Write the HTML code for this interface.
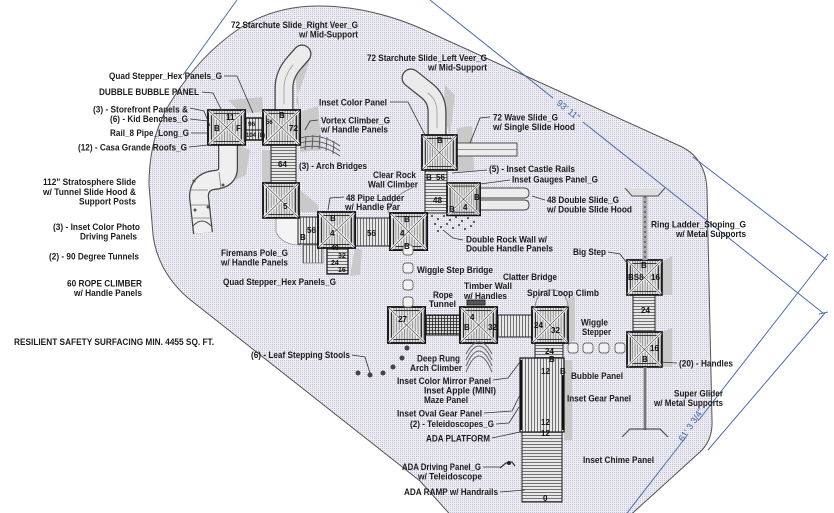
<!DOCTYPE html>
<html><head><meta charset="utf-8"><style>
html,body{margin:0;padding:0;background:#fff;}
svg{display:block;}
.t{font-family:"Liberation Sans",Arial,sans-serif;font-weight:bold;font-size:9.3px;fill:#1c1c1c;}
.n{font-family:"Liberation Sans",Arial,sans-serif;font-weight:bold;font-size:8px;fill:#111;}
.d{font-family:"Liberation Sans",Arial,sans-serif;font-size:9px;fill:#3f63b0;}
.ld{fill:none;stroke:#333;stroke-width:0.8;}
.bl{stroke:#4a6cb3;stroke-width:1;fill:none;}
</style></head><body>
<svg width="834" height="513" viewBox="0 0 834 513" xmlns="http://www.w3.org/2000/svg">
<defs>
<pattern id="dots" width="2" height="2" patternUnits="userSpaceOnUse">
<rect width="2" height="2" fill="#ededf3"/><rect width="1" height="1" fill="#c2c3d6"/>
</pattern>
<pattern id="vh" width="2.6" height="4" patternUnits="userSpaceOnUse">
<rect width="2.6" height="4" fill="#e2e2e2"/><line x1="0.5" y1="0" x2="0.5" y2="4" stroke="#777" stroke-width="0.7"/>
</pattern>
<pattern id="vs" width="3" height="4" patternUnits="userSpaceOnUse">
<rect width="3" height="4" fill="#e8e8e8"/><line x1="0.5" y1="0" x2="0.5" y2="4" stroke="#555" stroke-width="0.8"/>
</pattern>
<pattern id="hs" width="4" height="3" patternUnits="userSpaceOnUse">
<rect width="4" height="3" fill="#e8e8e8"/><line x1="0" y1="0.5" x2="4" y2="0.5" stroke="#555" stroke-width="0.8"/>
</pattern>
<pattern id="grid" width="3" height="3" patternUnits="userSpaceOnUse">
<rect width="3" height="3" fill="#d8d8d8"/><path d="M0.5 0V3M0 0.5H3" stroke="#222" stroke-width="0.8"/>
</pattern>
<g id="deck">
<rect x="0" y="0" width="36" height="36" fill="url(#vh)" stroke="#111" stroke-width="1.8"/>
<rect x="3.5" y="3.5" width="29" height="29" fill="none" stroke="#222" stroke-width="0.9"/>
<path d="M1 1L35 35M35 1L1 35" stroke="#fff" stroke-width="2.6"/>
<path d="M1 1L35 35M35 1L1 35" stroke="#444" stroke-width="0.7"/>
</g>
</defs>

<!-- surfacing area -->
<path d="M318,6 C350,6 385,13 420,28 L680,146 Q706,158 707,190 L712,420 Q713,440 700,452 L625,520 L455,520 L420,481 L188,298 Q158,272 153,235 L149,185 Q149,135 172,100 Q200,55 240,28 Q275,6 318,6 Z" fill="url(#dots)" stroke="#555" stroke-width="1"/>

<!-- blue dimension lines -->
<line class="bl" x1="237" y1="0" x2="183" y2="75"/>
<line class="bl" x1="430" y1="0" x2="553" y2="98"/>
<line class="bl" x1="583" y1="122" x2="823" y2="313"/>
<line class="bl" x1="693" y1="157" x2="827" y2="260"/>
<line class="bl" x1="825" y1="258" x2="698" y2="421"/>
<line class="bl" x1="686" y1="437" x2="627" y2="513"/>
<line class="bl" x1="708" y1="450" x2="825" y2="313"/>
<line class="bl" x1="822" y1="262" x2="828" y2="254"/>
<line class="bl" x1="819" y1="314" x2="828" y2="312"/>
<text class="d" transform="translate(556,104) rotate(38.7)">93' 11"</text>
<text class="d" transform="translate(683,442) rotate(-56)">61' 3 3/4"</text>

<!-- gray shadows -->
<g fill="#c9c9c9">
<path d="M228,100 L262,97 L263,112 L240,113 Z"/>
<path d="M300,112 L318,106 L322,150 L300,152 Z"/>
<path d="M293,60 L312,52 L305,75 L296,100 L300,112 Z"/>
<path d="M262,150 L270,150 L270,185 L262,185 Z"/>
<path d="M238,145 L250,150 L246,175 L236,180 Z"/>
<path d="M457,128 L472,126 L474,170 L457,172 Z"/>
<path d="M445,85 L455,95 L450,135 L442,112 Z"/>
<path d="M300,190 L318,205 L318,212 L300,212 Z"/>
<path d="M662,262 L672,256 L672,295 L662,295 Z"/>
<path d="M662,332 L672,328 L672,367 L662,367 Z"/>
<path d="M564,360 L572,360 L572,440 L564,440 Z"/>
<path d="M568,300 L575,295 L575,340 L568,343 Z"/>
<path d="M355,248 L362,250 L360,275 L350,276 Z"/>
</g>
<!-- white tunnel / rock wall area -->
<path d="M276,218 L300,218 L300,245 Q282,245 276,232 Z" fill="#f4f4f4" stroke="#888" stroke-width="0.8"/>
<path d="M412,188 Q392,196 388,213" fill="none" stroke="#777" stroke-width="0.8"/>

<!-- slides -->
<g fill="none" stroke-linecap="round">
<path d="M284,112 L284,88 Q284,74 295,62 L302,54" stroke="#444" stroke-width="19"/>
<path d="M284,112 L284,88 Q284,74 295,62 L302,54" stroke="#ebebeb" stroke-width="16.5"/>
<path d="M284,104 L284,88 Q284,76 293,65" stroke="#999" stroke-width="0.8"/>
<path d="M437,137 L437,112 Q437,98 426,90 L411,78" stroke="#444" stroke-width="19"/>
<path d="M437,137 L437,112 Q437,98 426,90 L411,78" stroke="#ebebeb" stroke-width="16.5"/>
<path d="M437,128 L437,112 Q437,100 428,93" stroke="#999" stroke-width="0.8"/>
</g>
<g fill="none">
<path d="M228,145 L228,168 Q228,179 214,180 Q199,182 199,197 L203,233" stroke="#444" stroke-width="20"/>
<path d="M228,145 L228,168 Q228,179 214,180 Q199,182 199,197 L203,233" stroke="#efefef" stroke-width="17.5"/>
<path d="M193,226 Q202,216 211,226" stroke="#444" stroke-width="0.9"/>
<path d="M190,190 L208,190 M191,205 L209,205 M192,218 L210,218 M219,172 L221,188" stroke="#777" stroke-width="0.8"/>
</g>
<g fill="#555"><circle cx="194" cy="181" r="1.5"/><circle cx="223" cy="185" r="1.5"/><circle cx="195" cy="210" r="1.5"/><circle cx="208" cy="207" r="1.5"/></g>
<!-- wave slide -->
<rect x="457" y="143" width="60" height="13" fill="#ececec" stroke="#444" stroke-width="0.9"/>
<line x1="457" y1="149.5" x2="517" y2="149.5" stroke="#777" stroke-width="0.7"/>
<!-- double slide -->
<path d="M480,188 L524,188 Q529,188 529,193 Q529,198 524,198 L480,198 Z M480,200 L524,200 Q529,200 529,205 Q529,210 524,210 L480,210 Z" fill="#ececec" stroke="#444" stroke-width="0.9"/>

<!-- arch bridges / vortex -->
<g fill="none" stroke="#555" stroke-width="0.9">
<path d="M300,138 Q320,132 340,146 M300,143 Q320,137 340,151 M300,148 Q320,142 340,156"/>
<path d="M306,137 L305,150 M313,135 L312,149 M320,135 L319,149 M327,137 L326,151 M334,141 L333,154"/>
</g>

<!-- walkways -->
<rect x="245" y="118" width="18" height="22" fill="url(#vs)" stroke="#111" stroke-width="1.4"/>
<line x1="245" y1="130" x2="263" y2="130" stroke="#111" stroke-width="1"/>
<rect x="271" y="145" width="25" height="38" fill="url(#hs)" stroke="#222" stroke-width="1"/>
<rect x="298" y="217" width="20" height="27" fill="url(#vs)" stroke="#222" stroke-width="1"/>
<rect x="355" y="218" width="35" height="28" fill="url(#vs)" stroke="#222" stroke-width="1"/>
<rect x="425" y="170" width="22" height="43" fill="url(#hs)" stroke="#222" stroke-width="1"/>
<rect x="425" y="315" width="35" height="20" fill="url(#grid)" stroke="#111" stroke-width="1"/>
<rect x="497" y="315" width="35" height="22" fill="url(#vs)" stroke="#222" stroke-width="1"/>
<rect x="535" y="343" width="28" height="17" fill="url(#hs)" stroke="#222" stroke-width="1"/>
<rect x="633" y="295" width="22" height="37" fill="url(#hs)" stroke="#222" stroke-width="1"/>
<rect x="520" y="358" width="44" height="74" fill="url(#vs)" stroke="#111" stroke-width="1.2"/>
<rect x="522" y="432" width="40" height="70" fill="url(#hs)" stroke="#222" stroke-width="1"/>
<line x1="521" y1="360" x2="521" y2="430" stroke="#111" stroke-width="2"/>
<line x1="563" y1="375" x2="563" y2="430" stroke="#111" stroke-width="2"/>
<!-- ladder below D & fireman pole -->
<rect x="327" y="247" width="21" height="27" fill="url(#hs)" stroke="#111" stroke-width="1.2"/>
<rect x="303" y="245" width="20" height="18" fill="url(#vs)" stroke="#555" stroke-width="0.6"/>

<!-- decks -->
<use href="#deck" transform="translate(208,110) scale(1.03,0.97)"/>
<use href="#deck" transform="translate(263,110) scale(1.03,0.97)"/>
<use href="#deck" transform="translate(263,183) scale(1,0.97)"/>
<use href="#deck" transform="translate(318,212) scale(1.03,1)"/>
<use href="#deck" transform="translate(390,213) scale(1.03,1.03)"/>
<use href="#deck" transform="translate(422,135) scale(0.97,0.97)"/>
<use href="#deck" transform="translate(447,183) scale(0.92,0.9)"/>
<use href="#deck" transform="translate(388,307) scale(1.03,1)"/>
<use href="#deck" transform="translate(460,307) scale(1.03,1)"/>
<use href="#deck" transform="translate(532,307) scale(1,1)"/>
<use href="#deck" transform="translate(627,332) scale(0.97,0.97)"/>
<use href="#deck" transform="translate(627,260) scale(0.97,0.97)"/>

<!-- double rock wall -->
<g fill="#333">
<circle cx="432" cy="216" r="1"/><circle cx="438" cy="219" r="1"/><circle cx="444" cy="216" r="1"/><circle cx="450" cy="220" r="1"/><circle cx="456" cy="217" r="1"/><circle cx="462" cy="221" r="1"/><circle cx="468" cy="218" r="1"/><circle cx="474" cy="222" r="1"/>
<circle cx="435" cy="224" r="1"/><circle cx="441" cy="227" r="1"/><circle cx="447" cy="224" r="1"/><circle cx="453" cy="228" r="1"/><circle cx="459" cy="225" r="1"/><circle cx="465" cy="229" r="1"/><circle cx="471" cy="226" r="1"/><circle cx="438" cy="231" r="1"/>
</g>

<!-- wiggle step bridge -->
<g fill="#f2f2f2" stroke="#666" stroke-width="0.9">
<rect x="403" y="245" width="10" height="10" rx="3"/><rect x="403" y="263" width="10" height="10" rx="3"/><rect x="403" y="280" width="10" height="10" rx="3"/><rect x="403" y="297" width="10" height="10" rx="3"/>
<rect x="568" y="343" width="10" height="10" rx="3"/><rect x="583" y="343" width="10" height="10" rx="3"/><rect x="599" y="343" width="10" height="10" rx="3"/><rect x="615" y="343" width="10" height="10" rx="3"/>
</g>
<!-- spiral loop climb -->
<path d="M535,307 Q537,290 552,290 Q567,290 568,307" fill="none" stroke="#999" stroke-width="1.2"/>
<!-- timber wall -->
<rect x="467" y="300" width="18" height="5" fill="#555" stroke="#111" stroke-width="0.8"/>
<!-- deep rung arch climber -->
<g fill="none" stroke="#666" stroke-width="1">
<path d="M466,372 Q479,340 492,372"/><path d="M466,366 Q479,336 492,366"/><path d="M466,360 Q479,332 492,360"/><path d="M466,354 Q479,330 492,354"/>
</g>
<!-- leaf stools -->
<g fill="#444"><circle cx="358" cy="373" r="2.5"/><circle cx="370" cy="375" r="2.5"/><circle cx="383" cy="373" r="2.5"/><circle cx="393" cy="367" r="2.5"/><circle cx="402" cy="358" r="2.5"/><circle cx="407" cy="348" r="2.5"/></g>
<!-- ring ladder & super glider -->
<line x1="645" y1="196" x2="645" y2="260" stroke="#aaa" stroke-width="5"/>
<line x1="645" y1="196" x2="645" y2="260" stroke="#333" stroke-width="1" stroke-dasharray="2,3"/>
<path d="M625,188 L632,196 L658,196 L665,188" fill="#ddd" stroke="#555" stroke-width="1"/>
<line x1="645" y1="367" x2="645" y2="430" stroke="#999" stroke-width="3"/>
<line x1="645" y1="367" x2="645" y2="430" stroke="#444" stroke-width="0.8"/>
<path d="M622,437 L630,429 L660,429 L668,437" fill="none" stroke="#555" stroke-width="1.2"/>
<!-- teleidoscope icon -->
<path d="M500,468 L506,463 L512,462 L515,466" fill="none" stroke="#333" stroke-width="1.2"/><circle cx="509" cy="463" r="2" fill="#222"/>

<!-- deck numbers -->
<g class="n">
<text x="226" y="120">11</text><text x="214" y="131">B</text><text x="236" y="131">F</text>
<text x="248" y="126" style="font-size:6.5px">96</text><text x="246" y="137" style="font-size:6px">104 (8)</text>
<text x="279" y="118">B</text><text x="289" y="131">72</text><text x="266" y="124" style="font-size:6px">56</text>
<text x="278" y="167">64</text><text x="283" y="209">5</text>
<text x="300" y="240">B</text><text x="307" y="233">56</text>
<text x="330" y="221">B</text><text x="330" y="236">4</text><text x="331" y="250" style="font-size:7px">40</text>
<text x="338" y="258" style="font-size:7px">32</text><text x="331" y="265" style="font-size:7px">24</text><text x="338" y="272" style="font-size:7px">16</text>
<text x="367" y="236">56</text>
<text x="404" y="222">B</text><text x="400" y="236">4</text><text x="404" y="249">B</text>
<text x="437" y="143">B</text><text x="426" y="180">B</text><text x="436" y="180">56</text><text x="433" y="203">48</text>
<text x="463" y="210">4</text><text x="474" y="200">B</text><text x="449" y="212">B</text>
<text x="398" y="322">27</text>
<text x="470" y="320">4</text><text x="464" y="330">B</text><text x="488" y="330">32</text>
<text x="534" y="328">24</text><text x="551" y="333">32</text>
<text x="545" y="354">24</text><text x="549" y="362">B</text>
<text x="541" y="374">12</text><text x="560" y="374">B</text><text x="541" y="425">12</text><text x="541" y="436">12</text>
<text x="543" y="501">0</text>
<text x="641" y="313">24</text>
<text x="641" y="268">B</text><text x="628" y="280">BS8</text><text x="651" y="280">16</text>
<text x="650" y="351">16</text><text x="642" y="362">B</text>
</g>

<!-- leaders -->
<g class="ld">
<path d="M224,76 L237,76 L253,113"/>
<path d="M202,92 L213,93 L222,111"/>
<path d="M190,108 L204,111 L210,126"/>
<path d="M190,119 L208,121"/>
<path d="M191,133 L208,133"/>
<path d="M189,147 L208,145"/>
<path d="M390,102 L408,102 L425,135"/>
<path d="M318,120 L310,121 L305,130"/>
<path d="M344,197 L330,198 L328,210"/>
<path d="M490,117 L480,118 L470,143"/>
<path d="M487,170 L452,173"/>
<path d="M510,180 L480,184"/>
<path d="M545,200 L532,196"/>
<path d="M463,240 L453,238 L443,230"/>
<path d="M608,252 L620,254 L627,263"/>
<path d="M677,363 L660,362"/>
<path d="M352,355 L365,357 L370,373"/>
<path d="M493,380 L508,378 L520,362"/>
<path d="M484,413 L512,411 L520,395"/>
<path d="M496,424 L509,423 L519,407"/>
<path d="M492,438 L520,432"/>
<path d="M483,467 L500,467"/>
<path d="M500,492 L525,490"/>
</g>

<!-- labels -->
<g class="t">
<text x="231" y="28" textLength="127" lengthAdjust="spacingAndGlyphs">72 Starchute Slide_Right Veer_G</text>
<text x="299" y="37.5" textLength="59" lengthAdjust="spacingAndGlyphs">w/ Mid-Support</text>
<text x="367" y="61" textLength="120" lengthAdjust="spacingAndGlyphs">72 Starchute Slide_Left Veer_G</text>
<text x="428" y="70.5" textLength="59" lengthAdjust="spacingAndGlyphs">w/ Mid-Support</text>
<text x="109" y="79" textLength="113" lengthAdjust="spacingAndGlyphs">Quad Stepper_Hex Panels_G</text>
<text x="99" y="95" textLength="100" lengthAdjust="spacingAndGlyphs">DUBBLE BUBBLE PANEL</text>
<text x="93" y="112.5" textLength="95" lengthAdjust="spacingAndGlyphs">(3) - Storefront Panels &amp;</text>
<text x="110" y="122" textLength="78" lengthAdjust="spacingAndGlyphs">(6) - Kid Benches_G</text>
<text x="110" y="136" textLength="79" lengthAdjust="spacingAndGlyphs">Rail_8 Pipe_Long_G</text>
<text x="78" y="150.5" textLength="109" lengthAdjust="spacingAndGlyphs">(12) - Casa Grande Roofs_G</text>
<text x="43" y="185" textLength="93" lengthAdjust="spacingAndGlyphs">112" Stratosphere Slide</text>
<text x="43" y="195" textLength="93" lengthAdjust="spacingAndGlyphs">w/ Tunnel Slide Hood &amp;</text>
<text x="79" y="204.5" textLength="57" lengthAdjust="spacingAndGlyphs">Support Posts</text>
<text x="53" y="230" textLength="87" lengthAdjust="spacingAndGlyphs">(3) - Inset Color Photo</text>
<text x="80" y="239.5" textLength="57" lengthAdjust="spacingAndGlyphs">Driving Panels</text>
<text x="49" y="259.5" textLength="90" lengthAdjust="spacingAndGlyphs">(2) - 90 Degree Tunnels</text>
<text x="67" y="286.5" textLength="75" lengthAdjust="spacingAndGlyphs">60 ROPE CLIMBER</text>
<text x="74" y="296" textLength="68" lengthAdjust="spacingAndGlyphs">w/ Handle Panels</text>
<text x="14" y="345" textLength="200" lengthAdjust="spacingAndGlyphs">RESILIENT SAFETY SURFACING MIN. 4455 SQ. FT.</text>
<text x="221" y="256" textLength="67" lengthAdjust="spacingAndGlyphs">Firemans Pole_G</text>
<text x="221" y="265.5" textLength="67" lengthAdjust="spacingAndGlyphs">w/ Handle Panels</text>
<text x="223" y="285" textLength="113" lengthAdjust="spacingAndGlyphs">Quad Stepper_Hex Panels_G</text>
<text x="251" y="358" textLength="99" lengthAdjust="spacingAndGlyphs">(6) - Leaf Stepping Stools</text>
<text x="319" y="105.5" textLength="68" lengthAdjust="spacingAndGlyphs">Inset Color Panel</text>
<text x="321" y="123.5" textLength="69" lengthAdjust="spacingAndGlyphs">Vortex Climber_G</text>
<text x="321" y="132.5" textLength="67" lengthAdjust="spacingAndGlyphs">w/ Handle Panels</text>
<text x="299" y="169" textLength="68" lengthAdjust="spacingAndGlyphs">(3) - Arch Bridges</text>
<text x="373" y="178" textLength="43" lengthAdjust="spacingAndGlyphs">Clear Rock</text>
<text x="368" y="187.5" textLength="50" lengthAdjust="spacingAndGlyphs">Wall Climber</text>
<text x="346" y="201" textLength="58" lengthAdjust="spacingAndGlyphs">48 Pipe Ladder</text>
<text x="345" y="210" textLength="55" lengthAdjust="spacingAndGlyphs">w/ Handle Par</text>
<text x="493" y="120.5" textLength="65" lengthAdjust="spacingAndGlyphs">72 Wave Slide_G</text>
<text x="493" y="130" textLength="82" lengthAdjust="spacingAndGlyphs">w/ Single Slide Hood</text>
<text x="489" y="172" textLength="86" lengthAdjust="spacingAndGlyphs">(5) - Inset Castle Rails</text>
<text x="512" y="182.5" textLength="86" lengthAdjust="spacingAndGlyphs">Inset Gauges Panel_G</text>
<text x="547" y="203" textLength="72" lengthAdjust="spacingAndGlyphs">48 Double Slide_G</text>
<text x="547" y="212.5" textLength="85" lengthAdjust="spacingAndGlyphs">w/ Double Slide Hood</text>
<text x="466" y="242.5" textLength="81" lengthAdjust="spacingAndGlyphs">Double Rock Wall w/</text>
<text x="466" y="251.5" textLength="87" lengthAdjust="spacingAndGlyphs">Double Handle Panels</text>
<text x="651" y="227.5" textLength="95" lengthAdjust="spacingAndGlyphs">Ring Ladder_Sloping_G</text>
<text x="676" y="237" textLength="70" lengthAdjust="spacingAndGlyphs">w/ Metal Supports</text>
<text x="573" y="255" textLength="33" lengthAdjust="spacingAndGlyphs">Big Step</text>
<text x="417" y="273" textLength="76" lengthAdjust="spacingAndGlyphs">Wiggle Step Bridge</text>
<text x="503" y="280" textLength="54" lengthAdjust="spacingAndGlyphs">Clatter Bridge</text>
<text x="464" y="289" textLength="48" lengthAdjust="spacingAndGlyphs">Timber Wall</text>
<text x="464" y="299" textLength="43" lengthAdjust="spacingAndGlyphs">w/ Handles</text>
<text x="433" y="298" textLength="20" lengthAdjust="spacingAndGlyphs">Rope</text>
<text x="429" y="307" textLength="27" lengthAdjust="spacingAndGlyphs">Tunnel</text>
<text x="527" y="296" textLength="72" lengthAdjust="spacingAndGlyphs">Spiral Loop Climb</text>
<text x="581" y="325.5" textLength="27" lengthAdjust="spacingAndGlyphs">Wiggle</text>
<text x="582" y="335" textLength="29" lengthAdjust="spacingAndGlyphs">Stepper</text>
<text x="417" y="361.5" textLength="43" lengthAdjust="spacingAndGlyphs">Deep Rung</text>
<text x="410" y="371" textLength="52" lengthAdjust="spacingAndGlyphs">Arch Climber</text>
<text x="397" y="384" textLength="94" lengthAdjust="spacingAndGlyphs">Inset Color Mirror Panel</text>
<text x="424" y="393.5" textLength="72" lengthAdjust="spacingAndGlyphs">Inset Apple  (MINI)</text>
<text x="424" y="403" textLength="44" lengthAdjust="spacingAndGlyphs">Maze Panel</text>
<text x="397" y="416.5" textLength="85" lengthAdjust="spacingAndGlyphs">Inset Oval Gear Panel</text>
<text x="410" y="427" textLength="84" lengthAdjust="spacingAndGlyphs">(2) - Teleidoscopes_G</text>
<text x="426" y="441.5" textLength="64" lengthAdjust="spacingAndGlyphs">ADA PLATFORM</text>
<text x="402" y="470" textLength="79" lengthAdjust="spacingAndGlyphs">ADA Driving Panel_G</text>
<text x="418" y="479.5" textLength="64" lengthAdjust="spacingAndGlyphs">w/ Teleidoscope</text>
<text x="404" y="495" textLength="94" lengthAdjust="spacingAndGlyphs">ADA RAMP w/ Handrails</text>
<text x="571" y="379" textLength="52" lengthAdjust="spacingAndGlyphs">Bubble Panel</text>
<text x="567" y="401.5" textLength="64" lengthAdjust="spacingAndGlyphs">Inset Gear Panel</text>
<text x="583" y="463" textLength="71" lengthAdjust="spacingAndGlyphs">Inset Chime Panel</text>
<text x="679" y="366.5" textLength="54" lengthAdjust="spacingAndGlyphs">(20) - Handles</text>
<text x="674" y="396.5" textLength="49" lengthAdjust="spacingAndGlyphs">Super Glider</text>
<text x="654" y="406" textLength="69" lengthAdjust="spacingAndGlyphs">w/ Metal Supports</text>
</g>
</svg>
</body></html>
